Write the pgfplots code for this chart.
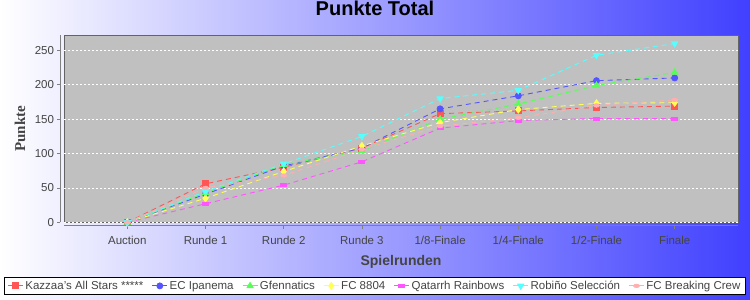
\documentclass[border=0pt]{standalone}
\usepackage{pgfplots}
\pgfplotsset{compat=1.18}
\usepackage{fontspec}
\setmainfont{Liberation Sans}
\newfontfamily\serifbf{Liberation Serif}
\definecolor{cRed}{RGB}{255,85,85}
\definecolor{cBlue}{RGB}{85,85,255}
\definecolor{cGreen}{RGB}{85,255,85}
\definecolor{cYellow}{RGB}{255,255,85}
\definecolor{cMag}{RGB}{255,85,255}
\definecolor{cCyan}{RGB}{85,255,255}
\definecolor{cPink}{RGB}{255,175,175}
\definecolor{bgBlue}{RGB}{64,64,255}
\definecolor{plotGray}{RGB}{192,192,192}
\definecolor{txtGray}{RGB}{68,68,68}
\definecolor{frameGray}{RGB}{100,100,100}
\begin{document}
\begin{tikzpicture}[x=1pt,y=1pt]
\shade[left color=white, right color=bgBlue] (0,0) rectangle (750,300);
\useasboundingbox (0,0) rectangle (750,300);
\begin{axis}[
  at={(64pt,77.7pt)}, anchor=south west,
  scale only axis, width=674pt, height=187pt,
  xmin=-0.81, xmax=7.81, ymin=0, ymax=272,
  xtick={0,...,7},
  xticklabels={Auction,Runde 1,Runde 2,Runde 3,1/8-Finale,1/4-Finale,1/2-Finale,Finale},
  ytick={0,50,...,250},
  axis x line*=bottom, axis y line*=left,
  axis line shift=3.5pt,
  axis line style={draw=gray, line width=0.8pt},
  tick align=outside, major tick length=3pt, tick style={gray, line width=0.6pt},
  axis background/.style={fill=plotGray, draw=frameGray, line width=0.9pt},
  ymajorgrids, grid style={white, dash pattern=on 2pt off 2pt, line width=0.6pt},
  /pgf/number format/assume math mode=true,
  xticklabel style={font=\fontsize{11.5}{13}\selectfont, text=txtGray, yshift=-3.5pt},
  yticklabel style={font=\fontsize{11.5}{13}\selectfont, text=txtGray},
  title={Punkte Total},
  title style={at={(axis description cs:0.4614,1.114)}, anchor=center, font=\fontsize{20}{24}\selectfont\bfseries},
  xlabel={Spielrunden},
  every axis x label/.style={at={(axis description cs:0.5,-0.211)}, anchor=center, font=\fontsize{14}{16}\selectfont\bfseries, text=txtGray},
  ylabel={Punkte},
  every axis y label/.style={at={(axis description cs:-0.0653,0.5)}, rotate=90, anchor=center, font=\serifbf\fontsize{15}{18}\selectfont\bfseries, text=txtGray},
  legend columns=7,
  legend cell align=left,
  legend style={at={(axis description cs:0.4614,-0.2925)}, anchor=north, draw=black, fill=white, line width=0.8pt,
    font=\fontsize{11.5}{13}\selectfont, text=txtGray, inner xsep=3pt, inner ysep=1.5pt,
    /tikz/every even column/.append style={column sep=6.5pt}},
  legend image code/.code={\draw[mark repeat=2,mark phase=2,#1] plot coordinates {(0pt,0pt)(7.5pt,0pt)(15pt,0pt)};},
  legend image post style={solid, line width=0.8pt},
  every axis plot/.append style={line width=0.9pt, dash pattern=on 5pt off 4pt},
]
\addplot[cRed, mark=square*, mark size=3pt, mark options={solid, draw=cRed, fill=cRed}]
  coordinates {(0,0) (1,56) (2,80) (3,108) (4,158) (5,162) (6,167) (7,169)};
\addlegendentry{Kazzaa's All Stars *****}
\addplot[cBlue, mark=*, mark size=3pt, mark options={solid, draw=cBlue, fill=cBlue}]
  coordinates {(0,0) (1,41) (2,82) (3,108) (4,165) (5,184) (6,206) (7,210)};
\addlegendentry{EC Ipanema}
\addplot[cGreen, mark=triangle*, mark size=3.5pt, mark options={solid, draw=cGreen, fill=cGreen}]
  coordinates {(0,0) (1,43) (2,84) (3,104) (4,150) (5,172) (6,199) (7,218)};
\addlegendentry{Gfennatics}
\addplot[cYellow, mark=diamond*, mark size=3.5pt, mark options={solid, draw=cYellow, fill=cYellow}]
  coordinates {(0,0) (1,35) (2,74) (3,111) (4,145) (5,164) (6,173) (7,174)};
\addlegendentry{FC 8804}
\addplot[cMag, mark=square*, mark size=3pt, mark options={solid, draw=cMag, fill=cMag, yscale=0.5}]
  coordinates {(0,0) (1,27) (2,54) (3,88) (4,137) (5,148) (6,151) (7,151)};
\addlegendentry{Qatarrh Rainbows}
\addplot[cCyan, mark=triangle*, mark size=3.5pt, mark options={solid, draw=cCyan, fill=cCyan, rotate=180}]
  coordinates {(0,0) (1,45) (2,85) (3,125) (4,180) (5,192) (6,243) (7,260)};
\addlegendentry{Robiño Selección}
\addplot[cPink, mark=*, mark size=3pt, mark options={solid, draw=cPink, fill=cPink, yscale=0.55}]
  coordinates {(0,0) (1,50) (2,68) (3,106) (4,140) (5,152) (6,170) (7,178)};
\addlegendentry{FC Breaking Crew}
\end{axis}
\end{tikzpicture}
\end{document}
